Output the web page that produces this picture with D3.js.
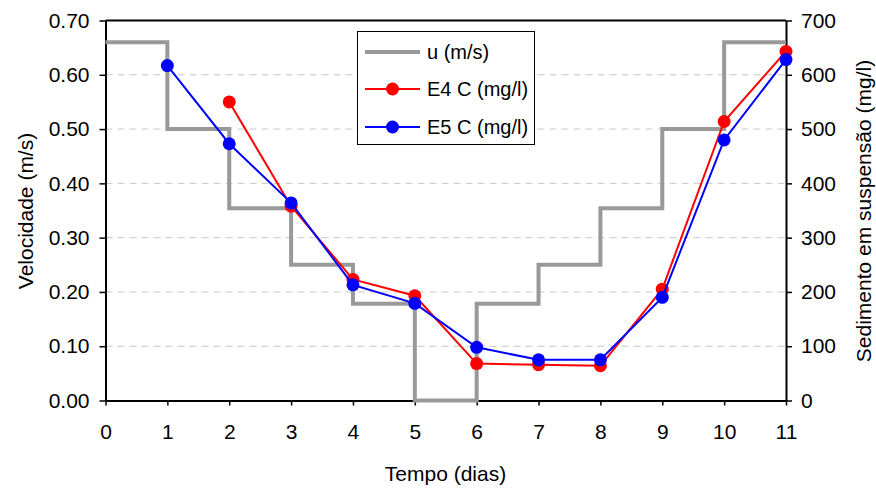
<!DOCTYPE html>
<html>
<head>
<meta charset="utf-8">
<script src="https://cdn.jsdelivr.net/npm/d3@7"></script>
<style>
  body { margin: 0; background: #fff; }
  text { font-family: "Liberation Sans", Arial, sans-serif; fill: #000; }
</style>
</head>
<body>
<script>
// data
const days = [0, 1, 2, 3, 4, 5, 6, 7, 8, 9, 10, 11]
const uValues = [0.66, 0.50, 0.354, 0.25, 0.178, 0.00, 0.178, 0.25, 0.354, 0.50, 0.66, 0.66]
const e4Days = [2, 3, 4, 5, 6, 7, 8, 9, 10, 11]
const e4Values = [550, 358, 223, 193, 68, 66, 64, 205, 514, 643]
const e5Days = [1, 2, 3, 4, 5, 6, 7, 8, 9, 10, 11]
const e5Values = [617, 473, 364, 213, 179, 98, 75, 75, 190, 480, 628]
const leftTicks = [0, 0.1, 0.2, 0.3, 0.4, 0.5, 0.6, 0.7]
const rightTicks = [0, 100, 200, 300, 400, 500, 600, 700]
const legendLabels = ['u (m/s)', 'E4 C (mg/l)', 'E5 C (mg/l)']

const width = 876, height = 488
const plotL = 105.5, plotR = 786, plotT = 20.5, plotB = 400.5

const svg = d3.select('body').append('svg')
  .attr('width', width)
  .attr('height', height)

const x = d3.scaleLinear().domain([0, 11]).range([plotL, plotR])
const yL = d3.scaleLinear().domain([0, 0.7]).range([plotB, plotT])
const yR = d3.scaleLinear().domain([0, 700]).range([plotB, plotT])

// gridlines
svg.append('g')
  .selectAll('line')
  .data(leftTicks.slice(1, -1))
  .join('line')
  .attr('x1', plotL).attr('x2', plotR)
  .attr('y1', d => yL(d)).attr('y2', d => yL(d))
  .attr('stroke', '#c8c8c8')
  .attr('stroke-width', 1)
  .attr('stroke-dasharray', '7,5')

// top border
svg.append('line')
  .attr('x1', plotL).attr('x2', plotR)
  .attr('y1', plotT).attr('y2', plotT)
  .attr('stroke', '#000').attr('stroke-width', 2)

const fmt = d3.format('.2f')

const axisL = svg.append('g')
  .attr('transform', `translate(${plotL},0)`)
  .call(d3.axisLeft(yL).tickValues(leftTicks).tickFormat(fmt).tickSize(6).tickSizeOuter(0))
const axisR = svg.append('g')
  .attr('transform', `translate(${plotR},0)`)
  .call(d3.axisRight(yR).tickValues(rightTicks).tickSize(6).tickSizeOuter(0))
const axisB = svg.append('g')
  .attr('transform', `translate(0,${plotB})`)
  .call(d3.axisBottom(x).tickValues(days).tickSize(5).tickSizeOuter(0))

for (const a of [axisL, axisR, axisB]) {
  a.select('.domain').attr('stroke', '#000').attr('stroke-width', 2)
  a.selectAll('.tick line').attr('stroke', '#000').attr('stroke-width', 1.5)
  a.selectAll('.tick text')
    .attr('font-family', '"Liberation Sans", Arial, sans-serif')
    .attr('font-size', 21)
    .attr('fill', '#000')
}
axisL.selectAll('.tick text').attr('x', -16)
axisR.selectAll('.tick text').attr('x', 15)
axisB.selectAll('.tick text').attr('y', 24)

// u step line
const stepLine = d3.line()
  .x((d, i) => x(days[i]))
  .y(d => yL(d))
  .curve(d3.curveStepAfter)

svg.append('path')
  .attr('d', stepLine(uValues))
  .attr('fill', 'none')
  .attr('stroke', '#999')
  .attr('stroke-width', 4)

function drawSeries(ds, vs, color) {
  const pts = ds.map((d, i) => [d, vs[i]])
  svg.append('path')
    .attr('d', d3.line().x(p => x(p[0])).y(p => yR(p[1]))(pts))
    .attr('fill', 'none')
    .attr('stroke', color)
    .attr('stroke-width', 2)
  svg.append('g')
    .selectAll('circle')
    .data(pts)
    .join('circle')
    .attr('cx', p => x(p[0]))
    .attr('cy', p => yR(p[1]))
    .attr('r', 6.5)
    .attr('fill', color)
}
drawSeries(e4Days, e4Values, '#ff0000')
drawSeries(e5Days, e5Values, '#0000ff')

// axis titles
svg.append('text')
  .attr('x', 445.5).attr('y', 481)
  .attr('text-anchor', 'middle')
  .attr('font-size', 21)
  .text('Tempo (dias)')

svg.append('text')
  .attr('transform', 'translate(33,211) rotate(-90)')
  .attr('text-anchor', 'middle')
  .attr('font-size', 21)
  .text('Velocidade (m/s)')

svg.append('text')
  .attr('transform', 'translate(871,211) rotate(-90)')
  .attr('text-anchor', 'middle')
  .attr('font-size', 21)
  .text('Sedimento em suspensão (mg/l)')

// legend
const lg = svg.append('g')
lg.append('rect')
  .attr('x', 357.5).attr('y', 31.5)
  .attr('width', 177).attr('height', 113)
  .attr('fill', '#fff')
  .attr('stroke', '#000')
  .attr('stroke-width', 1)

const legendColors = ['#999', '#ff0000', '#0000ff']
const rowY = [52, 89, 127]
legendLabels.forEach((lab, i) => {
  lg.append('line')
    .attr('x1', 365).attr('x2', 420)
    .attr('y1', rowY[i]).attr('y2', rowY[i])
    .attr('stroke', legendColors[i])
    .attr('stroke-width', i === 0 ? 4 : 2)
  if (i > 0) {
    lg.append('circle')
      .attr('cx', 392.5).attr('cy', rowY[i])
      .attr('r', 6.5)
      .attr('fill', legendColors[i])
  }
  lg.append('text')
    .attr('x', 427).attr('y', rowY[i] + 7)
    .attr('font-size', 20)
    .text(lab)
})
</script>
</body>
</html>
